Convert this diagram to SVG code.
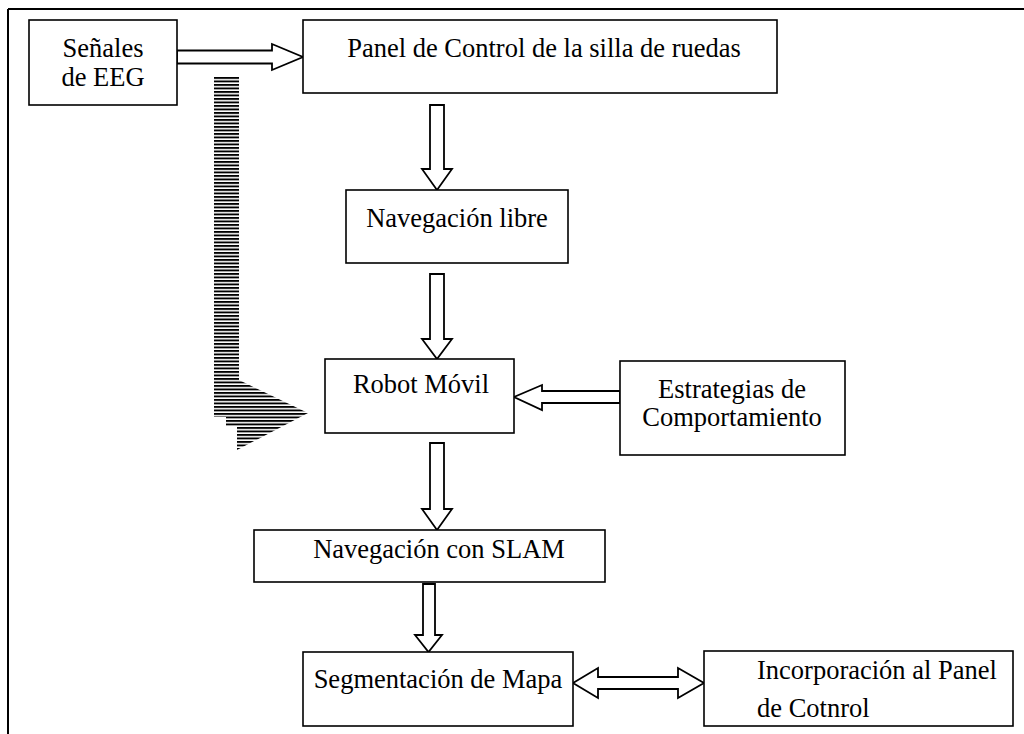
<svg xmlns="http://www.w3.org/2000/svg" width="1024" height="734" viewBox="0 0 1024 734">
<style>
.box{fill:#fff;stroke:#000;stroke-width:1.6}
.arr{fill:#fff;stroke:#000;stroke-width:1.8;stroke-linejoin:miter}
.frame{stroke:#000;stroke-width:2;fill:none}
text{font-family:"Liberation Serif","Times New Roman",serif;font-size:26.5px;fill:#000}
.c{text-anchor:middle}
</style>
<defs>
<pattern id="hatch" patternUnits="userSpaceOnUse" width="8" height="3.5">
<rect x="0" y="0" width="8" height="1.9" fill="#000"/>
</pattern>
</defs>
<rect width="1024" height="734" fill="#fff"/>
<g id="frame">
<line class="frame" x1="8" y1="9" x2="1024" y2="9"/>
<line class="frame" x1="8" y1="9" x2="8" y2="734"/>
</g>
<g id="connectors">
<polygon class="arr" points="177,50.5 272,50.5 272,44 303,57 272,70 272,63.5 177,63.5"/>
<polygon class="arr" points="430,105 444,105 444,169 452,169 437,190 422,169 430,169"/>
<polygon class="arr" points="430,274 444,274 444,339 452,339 437,359 422,339 430,339"/>
<polygon class="arr" points="620,391 542,391 542,385 514,397 542,410 542,403 620,403"/>
<polygon class="arr" points="430,443 444,443 444,509 452,509 437,530 422,509 430,509"/>
<polygon class="arr" points="423,584 435,584 435,635 442,635 428.5,652 415,635 423,635"/>
<polygon class="arr" points="573,683 598,668 598,677 678,677 678,668 704,683 678,698 678,689 598,689 598,698"/>
<polygon fill="url(#hatch)" points="214,77 239,77 239,380 308,413 237,450 237,426 226,426 226,417 214,417"/>
</g>
<g id="n-eeg">
<rect class="box" x="29" y="20" width="148" height="85"/>
<text class="c" x="103" y="57">Señales</text>
<text class="c" x="103" y="86">de EEG</text>
</g>
<g id="n-panel">
<rect class="box" x="303" y="20" width="474" height="73"/>
<text class="c" x="544" y="57">Panel de Control de la silla de ruedas</text>
</g>
<g id="n-libre">
<rect class="box" x="346" y="190" width="222" height="73"/>
<text class="c" x="457" y="227">Navegación libre</text>
</g>
<g id="n-robot">
<rect class="box" x="325" y="359" width="189" height="74"/>
<text class="c" x="421" y="393">Robot Móvil</text>
</g>
<g id="n-estrategias">
<rect class="box" x="620" y="361" width="225" height="94"/>
<text class="c" x="732" y="398">Estrategias de</text>
<text class="c" x="732" y="426">Comportamiento</text>
</g>
<g id="n-slam">
<rect class="box" x="254" y="530" width="351" height="52"/>
<text class="c" x="439" y="558">Navegación con SLAM</text>
</g>
<g id="n-segmentacion">
<rect class="box" x="303" y="652" width="270" height="74"/>
<text class="c" x="438" y="688">Segmentación de Mapa</text>
</g>
<g id="n-incorporacion">
<rect class="box" x="704" y="651" width="309" height="75"/>
<text x="757" y="679">Incorporación al Panel</text>
<text x="757" y="717">de Cotnrol</text>
</g>
</svg>
